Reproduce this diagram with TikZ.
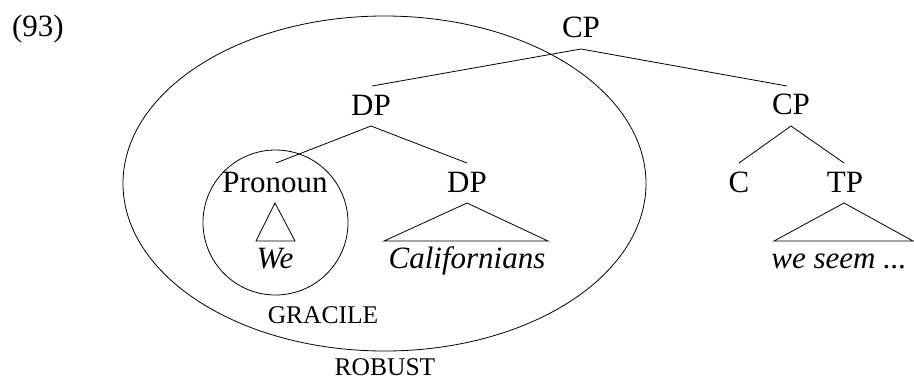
\documentclass[tikz,border=0pt]{standalone}
\usepackage{fontspec}
\setmainfont{Liberation Serif}
\begin{document}
\begin{tikzpicture}[x=1pt,y=-1pt,
  lab/.style={inner sep=0pt,anchor=base,font=\fontsize{31}{37}\selectfont},
  itlab/.style={lab,font=\fontsize{31}{37}\selectfont\itshape},
  sclab/.style={inner sep=0pt,anchor=base,font=\fontsize{25.5}{30}\selectfont},
  branch/.style={line width=0.8pt},
  ring/.style={line width=0.8pt}]
\useasboundingbox (0,0) rectangle (914,381);
% labels
\node[lab] (num) at (38,36) {(93)};
\node[lab] (cp) at (581,37) {CP};
\node[lab] (dp) at (371,115) {DP};
\node[lab] (cp2) at (791,114) {CP};
\node[lab] (pron) at (275,192) {Pronoun};
\node[lab] (dp2) at (467,192) {DP};
\node[lab] (c) at (739,192) {C};
\node[lab] (tp) at (845,192) {TP};
\node[itlab] (we) at (275,268) {We};
\node[itlab] (cal) at (467,268) {Californians};
\node[itlab] (ws) at (839,268) {we seem ...};
\node[sclab] (grac) at (323,323) {GRACILE};
\node[sclab] (rob) at (385,375.5) {ROBUST};
% branches
\coordinate (cp-b) at (581,49);
\coordinate (dp-t) at (372,86);
\coordinate (cp2-t) at (787,86);
\coordinate (dp-b) at (371,126);
\coordinate (pron-t) at (276,163);
\coordinate (dp2-t) at (467,163);
\coordinate (cp2-b) at (791,126);
\coordinate (c-t) at (739,163);
\coordinate (tp-t) at (844,163);
\draw[branch] (dp-t) -- (cp-b) -- (cp2-t);
\draw[branch] (pron-t) -- (dp-b) -- (dp2-t);
\draw[branch] (c-t) -- (cp2-b) -- (tp-t);
% triangles
\coordinate (we-a) at (275,203);
\coordinate (we-l) at (256,241);
\coordinate (we-r) at (295,241);
\draw[branch] (we-l) -- (we-a) -- (we-r) -- cycle;
\coordinate (cal-a) at (467,203);
\coordinate (cal-l) at (384,241);
\coordinate (cal-r) at (548,241);
\draw[branch] (cal-l) -- (cal-a) -- (cal-r) -- cycle;
\coordinate (ws-a) at (844,203);
\coordinate (ws-l) at (774,241);
\coordinate (ws-r) at (913,241);
\draw[branch] (ws-l) -- (ws-a) -- (ws-r) -- cycle;
% rings
\coordinate (gc) at (275.5,222.5);
\draw[ring] (gc) circle [radius=72.5pt];
\coordinate (rc) at (384.5,183.5);
\draw[ring] (rc) ellipse [x radius=261.5pt, y radius=167.5pt];
\end{tikzpicture}
\end{document}
